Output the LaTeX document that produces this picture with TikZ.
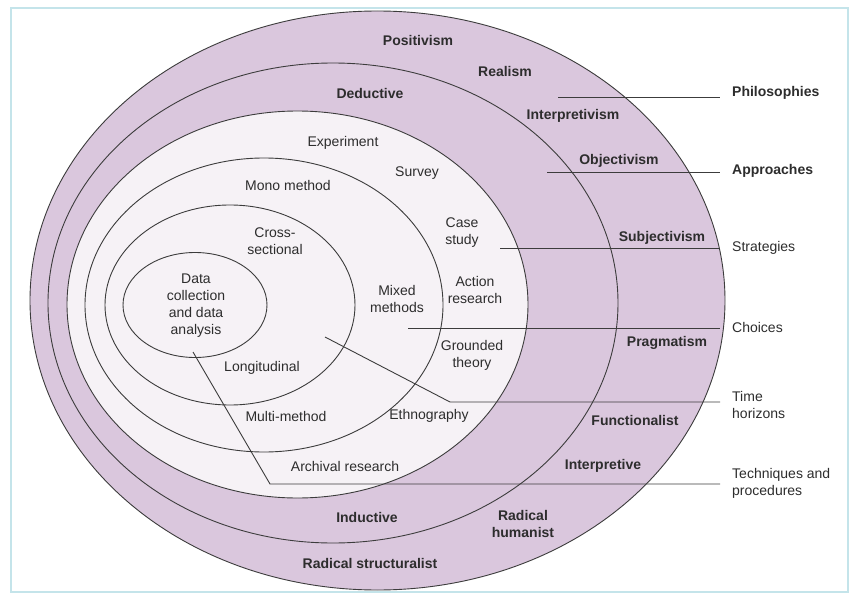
\documentclass[tikz,border=0pt]{standalone}
\usepackage{fontspec}
\setmainfont{Liberation Sans}
\definecolor{band}{RGB}{218,199,221}
\definecolor{core}{RGB}{246,242,246}
\definecolor{ink}{RGB}{45,45,45}
\definecolor{rim}{RGB}{60,60,60}
\definecolor{framecol}{RGB}{196,228,234}
\begin{document}
\begin{tikzpicture}[x=1pt,y=-1pt,
  ring/.style={draw=rim,line width=0.9pt},
  bandlab/.style={text=ink,font=\fontsize{14}{17}\selectfont\bfseries,align=center,inner sep=1pt},
  corelab/.style={text=ink,font=\fontsize{14}{17}\selectfont,align=center,inner sep=1pt},
  sidebold/.style={text=ink,font=\fontsize{14}{17}\selectfont\bfseries,anchor=west,align=left,inner sep=0pt},
  sidereg/.style={text=ink,font=\fontsize{14}{17}\selectfont,anchor=west,align=left,inner sep=0pt},
  leader/.style={draw=rim,line width=0.9pt,shorten >=12pt}]
\useasboundingbox (0,0) rectangle (855,594);
\fill[white] (0,0) rectangle (855,594);
\draw[framecol,line width=1.6pt] (11,8) rectangle (848,592);
% layers of the onion
\path[ring,fill=band] (377.5,300.5) ellipse [x radius=347.5,y radius=289.5];
\path[ring,fill=band] (333,303) ellipse [x radius=285,y radius=240];
\path[ring,fill=core] (297.5,304.5) ellipse [x radius=230.5,y radius=193.5];
\path[ring] (264,305) ellipse [x radius=179,y radius=147];
\path[ring] (230,305) ellipse [x radius=125,y radius=100];
\path[ring] (195,305) ellipse [x radius=72,y radius=52.5];
% philosophy band
\node[bandlab] (positivism) at (418,40) {Positivism};
\node[bandlab] (realism) at (505,71) {Realism};
\node[bandlab] (interpretivism) at (573,116) {Interpretivism};
\node[bandlab] (objectivism) at (619,161) {Objectivism};
\node[bandlab] (subjectivism) at (662,238) {Subjectivism};
\node[bandlab] (pragmatism) at (667,343) {Pragmatism};
\node[bandlab] (functionalist) at (635,420) {Functionalist};
\node[bandlab] (interpretive) at (603,466) {Interpretive};
\node[bandlab] (radhum) at (523,524) {Radical\\humanist};
\node[bandlab] (radstruct) at (370,563) {Radical structuralist};
% approach band
\node[bandlab] (deductive) at (370,93) {Deductive};
\node[bandlab] (inductive) at (367,517) {Inductive};
% strategies
\node[corelab] (experiment) at (343,143) {Experiment};
\node[corelab] (survey) at (417,173) {Survey};
\node[corelab] (casestudy) at (462,233) {Case\\study};
\node[corelab] (action) at (475,290) {Action\\research};
\node[corelab] (grounded) at (472,355) {Grounded\\theory};
\node[corelab] (ethno) at (429,416) {Ethnography};
\node[corelab] (archival) at (345,466) {Archival research};
% choices
\node[corelab] (mono) at (288,185) {Mono method};
\node[corelab] (mixed) at (397,299) {Mixed\\methods};
\node[corelab] (multi) at (286,416) {Multi-method};
% time horizons
\node[corelab] (cross) at (275,241) {Cross-\\sectional};
\node[corelab] (longi) at (262,368) {Longitudinal};
% core
\node[corelab] (datacoll) at (196,306) {Data\\collection\\and data\\analysis};
% side labels
\node[sidebold] (phil) at (732,93) {Philosophies};
\node[sidebold] (appr) at (732,171) {Approaches};
\node[sidereg] (strat) at (732,248) {Strategies};
\node[sidereg] (choice) at (732,327) {Choices};
\node[sidereg] (timeh) at (732,405) {Time\\horizons};
\node[sidereg] (tech) at (732,483) {Techniques and\\procedures};
% leader lines
\coordinate (sPhil) at (558,97);
\coordinate (sAppr) at (547,172);
\coordinate (sStrat) at (500,248);
\coordinate (sChoice) at (408,328);
\coordinate (sTime) at (325,337);
\coordinate (kTime) at (450,402);
\coordinate (sTech) at (193,352);
\coordinate (kTech) at (270,484);
\draw[leader] (sPhil) -- (sPhil -| phil.west);
\draw[leader] (sAppr) -- (sAppr -| appr.west);
\draw[leader] (sStrat) -- (sStrat -| strat.west);
\draw[leader] (sChoice) -- (sChoice -| choice.west);
\draw[leader] (sTime) -- (kTime) -- (kTime -| timeh.west);
\draw[leader] (sTech) -- (kTech) -- (kTech -| tech.west);
\end{tikzpicture}
\end{document}
